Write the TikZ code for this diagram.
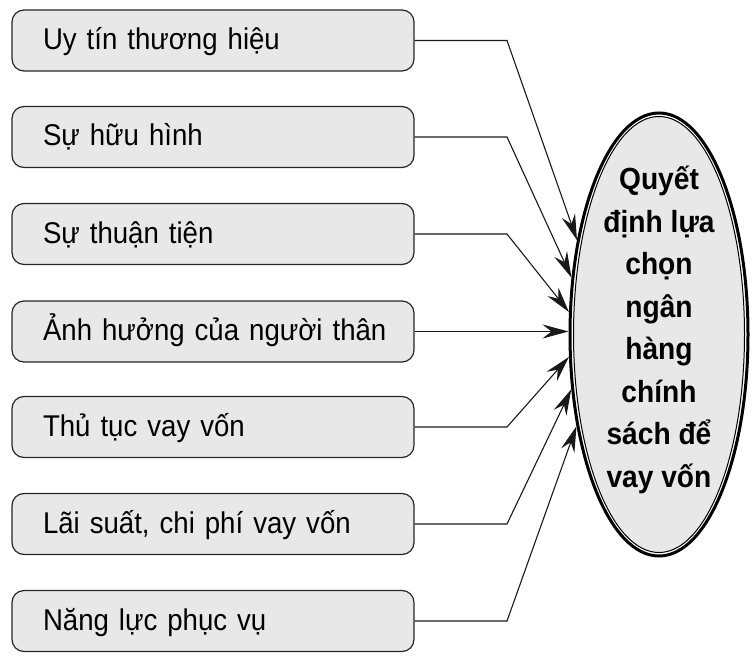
\documentclass[tikz,border=0pt]{standalone}
\usepackage{fontspec}
\setmainfont{Liberation Sans}[FakeStretch=0.92]
\usepackage{tikz}
\usetikzlibrary{arrows.meta,shapes.geometric}
\definecolor{boxgray}{HTML}{E8E8E9}
\tikzset{
    factor/.style={draw=black!85, line width=0.6pt, fill=boxgray, rounded corners=6pt,
        minimum height=30.5pt, inner xsep=15.5pt, text width=170pt, align=left,
        text height=11.5pt, text depth=2.5pt, font=\fontsize{15}{17}\selectfont}, % 左侧因素框
    conn/.style={draw=black!90, line width=0.55pt, -{Stealth[length=13pt, width=7pt, inset=4.5pt]}} % 箭头
}

\begin{document}
\begin{tikzpicture}[x=0.5pt, y=-0.5pt]
            \useasboundingbox (0,0) rectangle (755,658);

            \foreach \i/\y/\txt in {1/40.5/Uy tín thương hiệu, 2/137/Sự hữu hình, 3/234/Sự thuận tiện,
                4/331.5/Ảnh hưởng của người thân, 5/427/Thủ tục vay vốn,
                {6/524/Lãi suất, chi phí vay vốn}, 7/621/Năng lực phục vụ}
                {\node[factor] (b\i) at (213,\y) {\mbox{\txt}};}

            \node[ellipse, draw, line width=1.5pt, fill=white, inner sep=0pt,
                minimum width=89pt, minimum height=221.5pt] (ell) at (659,334.5) {};
            \node[ellipse, draw, line width=0.5pt, fill=boxgray, inner sep=0pt,
                minimum width=85.5pt, minimum height=218pt] (ellin) at (ell) {};
            \node[align=center, font=\fontsize{15.3}{21.25}\selectfont\bfseries] (elltxt) at (659,330)
                {Quyết\\định lựa\\chọn\\ngân\\hàng\\chính\\sách để\\vay vốn};

            \coordinate (bend) at (507,0);
            \foreach \i/\a in {1/131.5, 2/147.7, 3/166.4, 5/194.2, 6/212.8, 7/228.1}
                {\draw[conn] (b\i.east) -- (b\i.east -| bend) -- (ell.\a);}
            \draw[conn] (b4.east) -- (b4.east -| ell.west);
        \end{tikzpicture}
\end{document}
